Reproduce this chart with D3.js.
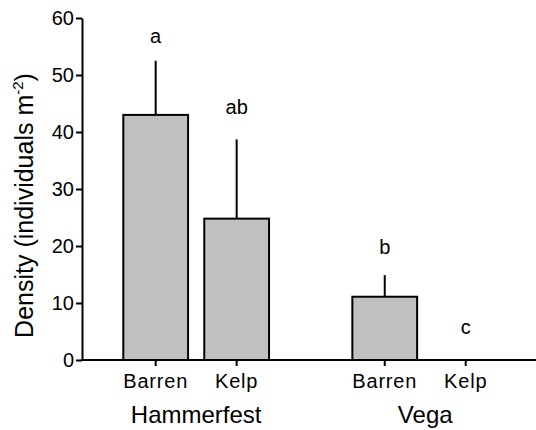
<!DOCTYPE html>
<html>
<head>
<meta charset="utf-8">
<script src="https://cdn.jsdelivr.net/npm/d3@7"></script>
<style>
  html, body { margin: 0; padding: 0; background: #fff; }
  svg { display: block; font-family: "Liberation Sans", Arial, sans-serif; }
</style>
</head>
<body>
<svg id="chart" width="536" height="430"></svg>
<script>
// ---- data ----
const sites = ["Hammerfest", "Vega"];
const habitats = ["Barren", "Kelp"];
const means = [43, 24.8, 11.1, 0];        // Hammerfest Barren, Hammerfest Kelp, Vega Barren, Vega Kelp
const errors = [9.5, 13.9, 3.8, 0];       // upper error (SE)
const letters = ["a", "ab", "b", "c"];
const letterLevel = [55.6, 43.2, 18.6, 4.6]; // letter baseline, in data units
const yTicks = [0, 10, 20, 30, 40, 50, 60];

const rows = [];
sites.forEach((s, i) => habitats.forEach((h, j) => {
  const k = i * habitats.length + j;
  rows.push({ site: s, habitat: h, mean: means[k], err: errors[k], letter: letters[k], lv: letterLevel[k] });
}));

const svg = d3.select("#chart");
const x0 = 82, x1 = 536, yTop = 18, yBottom = 360;

const y = d3.scaleLinear().domain([0, 60]).range([yBottom, yTop]);
const xSite = d3.scaleBand().domain(sites).range([115.2, 506.2]).paddingInner(0.293).paddingOuter(0);
const xHab = d3.scaleBand().domain(habitats).range([0, xSite.bandwidth()]).paddingInner(0.2).paddingOuter(0.1);
const bx = d => xSite(d.site) + xHab(d.habitat);
const cx = d => bx(d) + xHab.bandwidth() / 2;

// bars
svg.append("g").selectAll("rect").data(rows.filter(d => d.mean > 0)).join("rect")
  .attr("x", bx)
  .attr("y", d => y(d.mean))
  .attr("width", xHab.bandwidth())
  .attr("height", d => y(0) - y(d.mean))
  .attr("fill", "#c0c0c0")
  .attr("stroke", "#000")
  .attr("stroke-width", 2);

// error bars (upper only)
svg.append("g").selectAll("line").data(rows.filter(d => d.err > 0)).join("line")
  .attr("x1", cx).attr("x2", cx)
  .attr("y1", d => y(d.mean)).attr("y2", d => y(d.mean + d.err))
  .attr("stroke", "#000").attr("stroke-width", 2);

// letters
svg.append("g").selectAll("text").data(rows).join("text")
  .attr("x", cx)
  .attr("y", d => y(d.lv))
  .attr("text-anchor", "middle")
  .attr("font-size", 20)
  .text(d => d.letter);

// y axis
const yAxis = d3.axisLeft(y).tickValues(yTicks).tickSize(6).tickPadding(2).tickSizeOuter(0);
const gy = svg.append("g").attr("transform", `translate(${x0},0)`).call(yAxis);
gy.select(".domain").attr("stroke", "#000").attr("stroke-width", 2);
gy.selectAll(".tick line").attr("stroke", "#000").attr("stroke-width", 2);
gy.selectAll(".tick text").attr("font-size", 20).attr("fill", "#000").attr("font-family", "Liberation Sans, Arial, sans-serif");

// x axis line
svg.append("line").attr("x1", x0 - 1).attr("x2", x1).attr("y1", yBottom).attr("y2", yBottom)
  .attr("stroke", "#000").attr("stroke-width", 2);

// x ticks
svg.append("g").selectAll("line").data(rows).join("line")
  .attr("x1", cx).attr("x2", cx)
  .attr("y1", yBottom).attr("y2", yBottom + 6)
  .attr("stroke", "#000").attr("stroke-width", 2);

// habitat labels
svg.append("g").selectAll("text").data(rows).join("text")
  .attr("x", cx)
  .attr("y", 388)
  .attr("text-anchor", "middle")
  .attr("font-size", 20)
  .attr("letter-spacing", 0.8)
  .text(d => d.habitat);

// site labels
svg.append("g").selectAll("text").data(sites).join("text")
  .attr("x", s => xSite(s) + xSite.bandwidth() / 2)
  .attr("y", 423)
  .attr("text-anchor", "middle")
  .attr("font-size", 24)
  .text(s => s);

// y label
const yl = svg.append("text")
  .attr("transform", `translate(33,205.5) rotate(-90)`)
  .attr("text-anchor", "middle")
  .attr("font-size", 25);
yl.append("tspan").text("Density (individuals m");
yl.append("tspan").attr("font-size", 15).attr("dy", -10).text("-2");
yl.append("tspan").attr("dy", 10).text(")");
</script>
</body>
</html>
